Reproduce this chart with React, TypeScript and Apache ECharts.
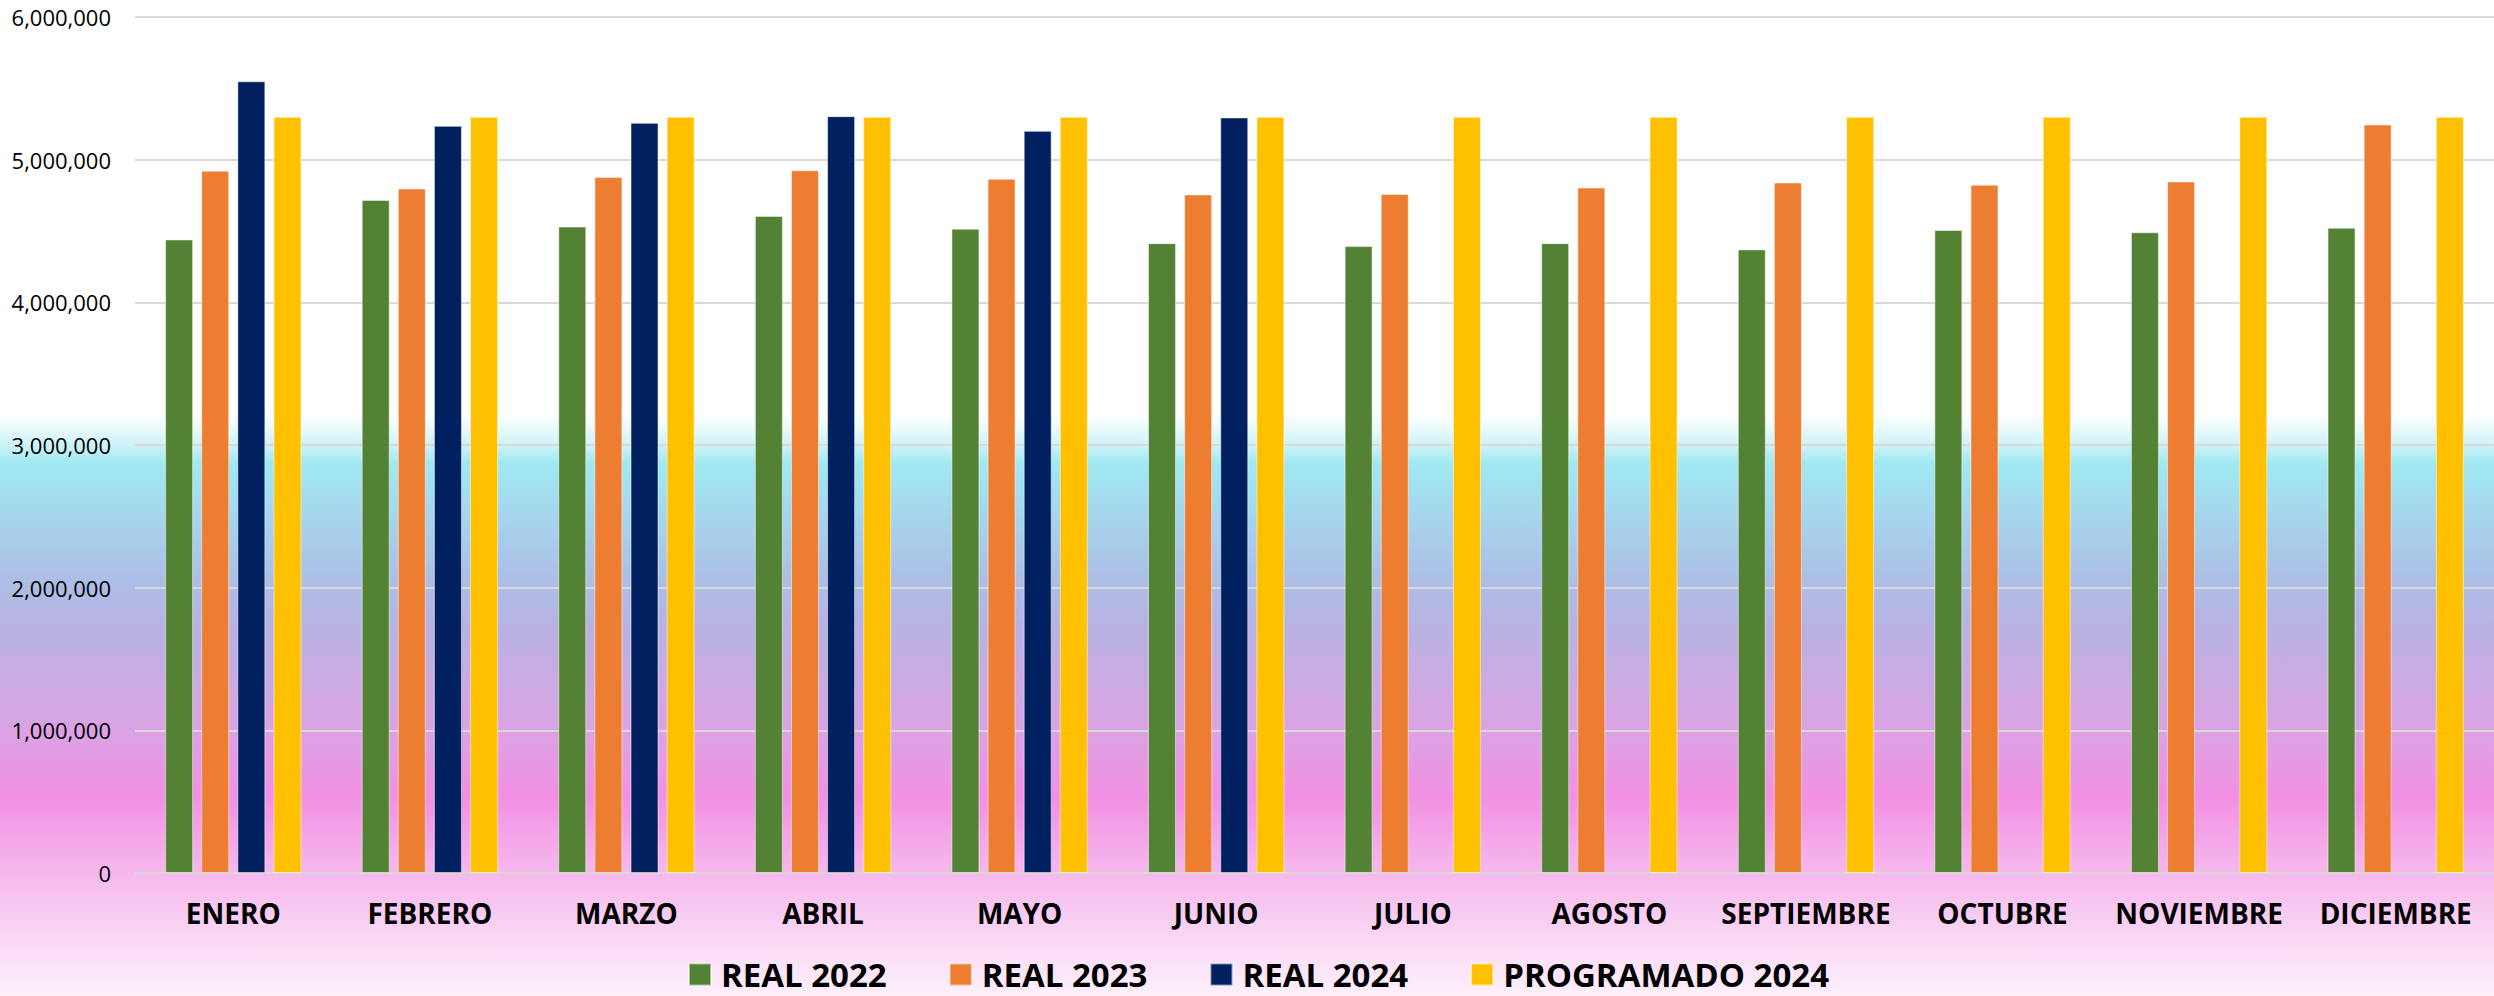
import React, { useEffect, useRef } from "react";
import * as echarts from "echarts";

const months = ["ENERO", "FEBRERO", "MARZO", "ABRIL", "MAYO", "JUNIO", "JULIO", "AGOSTO", "SEPTIEMBRE", "OCTUBRE", "NOVIEMBRE", "DICIEMBRE"];
const seriesNames = ["REAL 2022", "REAL 2023", "REAL 2024", "PROGRAMADO 2024"];
const real2022 = [4441000, 4718000, 4531000, 4606000, 4516000, 4415000, 4394000, 4415000, 4371000, 4507000, 4491000, 4523000];
const real2023 = [4923000, 4798000, 4878000, 4925000, 4866000, 4756000, 4760000, 4805000, 4840000, 4824000, 4847000, 5246000];
const real2024 = [5549000, 5237000, 5258000, 5305000, 5202000, 5296000, null, null, null, null, null, null];
const programado2024 = [5300000, 5300000, 5300000, 5300000, 5300000, 5300000, 5300000, 5300000, 5300000, 5300000, 5300000, 5300000];
const colors = ["#548235", "#ED7D31", "#002060", "#FFC000"];
const yTicks = [0, 1000000, 2000000, 3000000, 4000000, 5000000, 6000000];

export default function App() {
  const ref = useRef<HTMLDivElement>(null);
  useEffect(() => {
    if (!ref.current) return;
    const chart = echarts.init(ref.current, null, { renderer: "svg" });
    const data = [real2022, real2023, real2024, programado2024];
    chart.setOption({
      animation: false,
      backgroundColor: {
        type: "linear",
        x: 0, y: 0, x2: 0, y2: 1,
        colorStops: [
          { offset: 0, color: "#ffffff" },
          { offset: 0.415, color: "#ffffff" },
          { offset: 0.43, color: "#eafafc" },
          { offset: 0.45, color: "#c6f1f7" },
          { offset: 0.465, color: "#a0e9f2" },
          { offset: 0.5, color: "#a4dcef" },
          { offset: 0.58, color: "#acbfe6" },
          { offset: 0.63, color: "#b8b2e2" },
          { offset: 0.7, color: "#d0a8e2" },
          { offset: 0.735, color: "#dca2e4" },
          { offset: 0.8, color: "#f290e3" },
          { offset: 0.86, color: "#f5b0eb" },
          { offset: 0.92, color: "#f8cdf2" },
          { offset: 1, color: "#fdf0fb" },
        ],
      },
      color: colors,
      grid: { left: 135, right: 0, top: 17, height: 856, containLabel: false },
      legend: {
        data: seriesNames,
        left: 688,
        top: 958,
        padding: 0,
        itemWidth: 22,
        itemHeight: 22,
        itemGap: 62,
        icon: "rect",
        textStyle: {
          fontFamily: "Open Sans",
          fontWeight: "bold",
          fontSize: 33,
          lineHeight: 30,
          color: "#000",
          padding: [0, 0, 0, 5],
        },
      },
      xAxis: {
        type: "category",
        data: months,
        axisTick: { show: false },
        axisLine: { lineStyle: { color: "#d9d9d9", width: 2 } },
        axisLabel: {
          interval: 0,
          margin: 26,
          fontFamily: "Open Sans",
          fontWeight: "bold",
          fontSize: 28,
          color: "#000",
        },
      },
      yAxis: {
        type: "value",
        min: yTicks[0],
        max: yTicks[yTicks.length - 1],
        interval: 1000000,
        axisLine: { show: false },
        axisTick: { show: false },
        splitLine: { lineStyle: { color: "#d9d9d9", width: 2 } },
        axisLabel: {
          margin: 24,
          fontFamily: "Open Sans",
          fontSize: 22,
          color: "#000",
          formatter: (v: number) => v.toLocaleString("en-US"),
        },
      },
      series: seriesNames.map((name, i) => ({
        name,
        type: "bar",
        data: data[i],
        barWidth: 28,
        barGap: "29%",
        itemStyle: { color: colors[i], borderColor: "rgba(255,255,255,0.5)", borderWidth: 1 },
      })),
    });
    return () => chart.dispose();
  }, []);
  return <div ref={ref} style={{ position: "absolute", left: 0, top: 0, width: 2494, height: 996 }} />;
}
